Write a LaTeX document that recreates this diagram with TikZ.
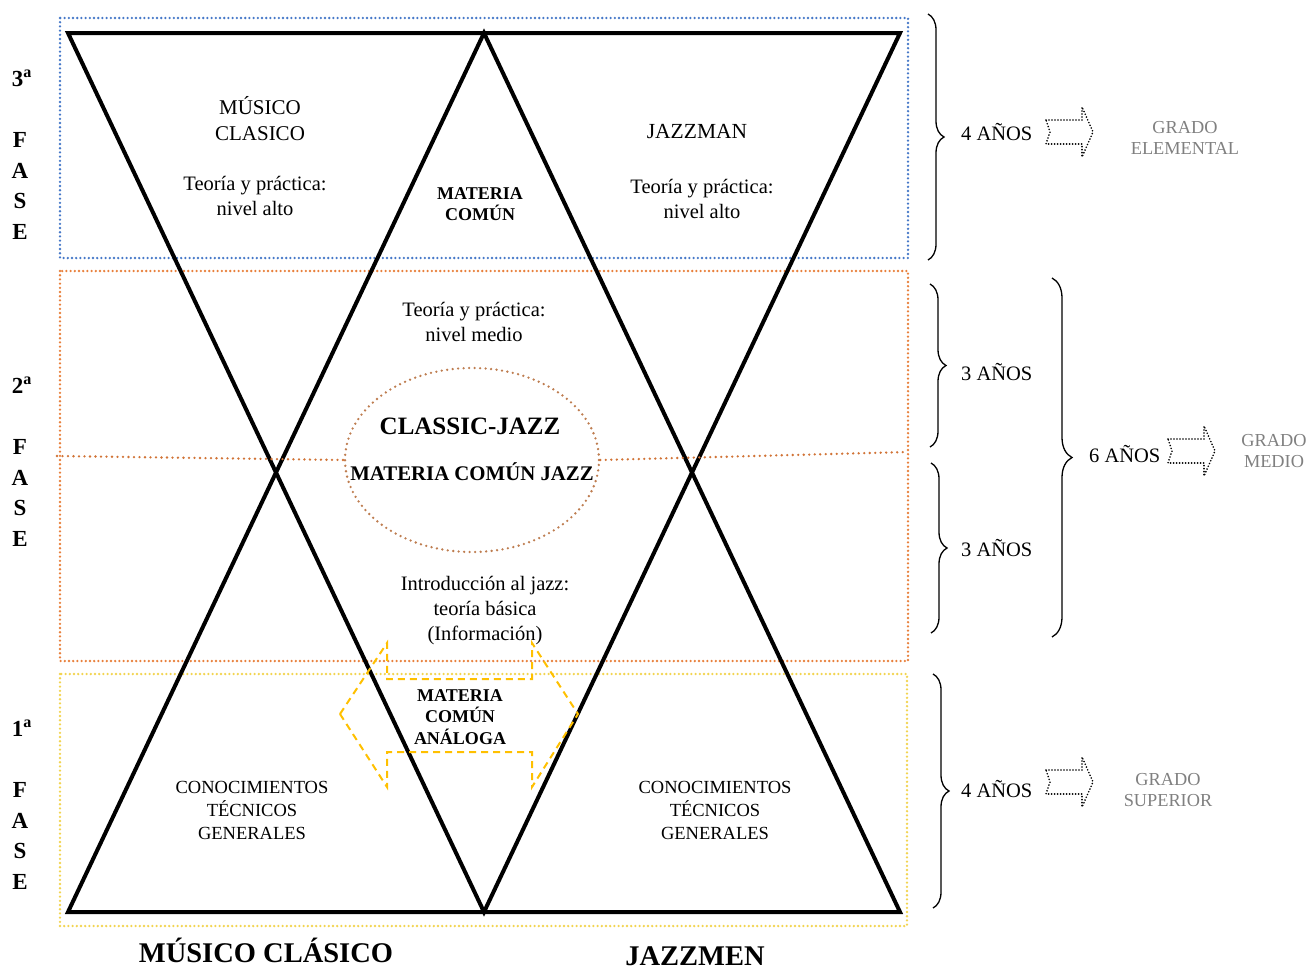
\documentclass[tikz,border=0pt]{standalone}
\usepackage{fontspec}
\setmainfont{Liberation Serif}
\usepackage{tikz}
\usetikzlibrary{shapes.geometric, decorations.pathreplacing, positioning}
\definecolor{faseazul}{RGB}{70,120,200}
\definecolor{fasenaranja}{RGB}{232,128,60}
\definecolor{faseamarilla}{RGB}{242,212,80}
\definecolor{elipsemarron}{RGB}{190,125,80}
\definecolor{flechaamarilla}{RGB}{255,192,0}
\definecolor{gradogris}{RGB}{128,128,128}
\tikzset{
  marco/.style={dash pattern=on 0pt off 4.2pt, line cap=round, line width=2.6pt},
  linea/.style={line width=4pt, line join=miter},
  texto/.style={align=center, font=\fontsize{20.5}{25}\selectfont, inner sep=0pt},
  negrita/.style={align=center, font=\bfseries\fontsize{18}{21.5}\selectfont, inner sep=0pt},
  tecnico/.style={align=center, font=\fontsize{18.5}{23}\selectfont, inner sep=0pt},
  fase/.style={align=center, font=\bfseries\fontsize{23}{30.7}\selectfont, inner sep=0pt},
  titulo/.style={font=\bfseries\fontsize{28.5}{32}\selectfont, inner sep=0pt},
  llave/.style={decorate, decoration={brace, amplitude=16pt}, line width=1.3pt},
  anos/.style={font=\fontsize{20.5}{25}\selectfont, inner sep=0pt, anchor=west},
  grado/.style={align=center, font=\fontsize{18.3}{21.5}\selectfont, text=gradogris, inner sep=0pt},
  hueca/.style={dash pattern=on 0pt off 3pt, line cap=round, line width=1.8pt},
  punteado/.style={dash pattern=on 0pt off 5.5pt, line cap=round, line width=2.6pt}
}
% flecha hueca punteada, desde su punto medio izquierdo
\newcommand\flechahueca[1]{%
  \draw[hueca, shift={(#1)}] (0,-12) -- (36,-12) -- (36,-25) -- (47,0)
    -- (36,25) -- (36,12) -- (0,12) -- (4,0) -- cycle;}

\begin{document}
\begin{tikzpicture}[x=1pt, y=-1pt]
  \useasboundingbox (0,0) rectangle (1309,969);
  % fases
  \draw[marco, faseazul]     (60,18)  rectangle (908,258);
  \draw[marco, fasenaranja]  (60,271) rectangle (908,661);
  \draw[marco, faseamarilla] (60,674) rectangle (907,926);
  % triangulos
  \coordinate (si) at (68,33);  \coordinate (sc) at (484,33);  \coordinate (sd) at (900,33);
  \coordinate (ii) at (68,912); \coordinate (ic) at (484,912); \coordinate (id) at (900,912);
  \draw[linea] (si) -- (sd) -- (ic) -- cycle;
  \draw[linea] (ii) -- (id) -- (sc) -- cycle;
  % elipse central
  \node[draw=elipsemarron, ellipse, punteado, minimum width=254pt, minimum height=184pt,
        inner sep=0pt] (elipse) at (472,460) {};
  \coordinate (mi) at (57,456);
  \coordinate (md) at (908,452);
  \draw[punteado, fasenaranja!90!black] (mi) -- (elipse.west);
  \draw[punteado, fasenaranja!90!black] (elipse.east) -- (md);
  % textos fase 3
  \node[texto, font=\fontsize{21}{26}\selectfont] (clasico) at (260,119) {MÚSICO\\CLASICO};
  \node[texto] (teoriaC) at (255,196) {Teoría y práctica:\\nivel alto};
  \node[negrita] (comun) at (480,204) {MATERIA\\COMÚN};
  \node[texto, font=\fontsize{21.5}{26}\selectfont] (jazzman) at (697,132) {JAZZMAN};
  \node[texto] (teoriaJ) at (702,199) {Teoría y práctica:\\nivel alto};
  % textos fase 2
  \node[texto] (medio) at (474,322) {Teoría y práctica:\\nivel medio};
  \node[titulo, font=\bfseries\fontsize{25}{28}\selectfont] (cj) at (470,426) {CLASSIC-JAZZ};
  \node[negrita, font=\bfseries\fontsize{20.8}{24}\selectfont] (cjazz) at (472,472) {MATERIA COMÚN JAZZ};
  \node[texto] (intro) at (485,611) {Introducción al jazz:\\teoría básica\\(Información)};
  % textos fase 1
  \draw[flechaamarilla, line width=2pt, dash pattern=on 7pt off 5pt]
    (340,714) -- (387,643) -- (387,679) -- (532,679) -- (532,643) -- (578,714)
    -- (532,787) -- (532,752) -- (387,752) -- (387,787) -- cycle;
  \node[negrita] (analoga) at (460,717) {MATERIA\\COMÚN\\ANÁLOGA};
  \node[tecnico] (tecC) at (252,810) {CONOCIMIENTOS\\TÉCNICOS\\GENERALES};
  \node[tecnico] (tecJ) at (715,810) {CONOCIMIENTOS\\TÉCNICOS\\GENERALES};
  % pie
  \node[titulo] (pieC) at (266,950) {MÚSICO CLÁSICO};
  \node[titulo] (pieJ) at (695,956) {JAZZMEN};
  % etiquetas de fase
  \node[fase] (n3) at (22,78)  {3\textsuperscript{a}};
  \node[fase] (f3) at (20,186) {F\\A\\S\\E};
  \node[fase] (n2) at (22,385) {2\textsuperscript{a}};
  \node[fase] (f2) at (20,493) {F\\A\\S\\E};
  \node[fase] (n1) at (22,728) {1\textsuperscript{a}};
  \node[fase] (f1) at (20,836) {F\\A\\S\\E};
  % llaves y grados
  \draw[llave] (928,14) -- (928,260);
  \draw[llave] (930,284) -- (930,447);
  \draw[llave] (931,463) -- (931,633);
  \draw[llave, decoration={amplitude=20pt}] (1052,278) -- (1052,637);
  \draw[llave] (933,674) -- (933,908);
  \node[anos] (a4s) at (961,132) {4 AÑOS};
  \node[anos] (a3a) at (961,372) {3 AÑOS};
  \node[anos] (a3b) at (961,548) {3 AÑOS};
  \node[anos] (a6)  at (1089,454) {6 AÑOS};
  \node[anos] (a4i) at (961,789) {4 AÑOS};
  \flechahueca{1046,132}
  \flechahueca{1168,451}
  \flechahueca{1046,782}
  \node[grado] (gElem) at (1185,138) {GRADO\\ELEMENTAL};
  \node[grado] (gMed)  at (1274,451) {GRADO\\MEDIO};
  \node[grado] (gSup)  at (1168,790) {GRADO\\SUPERIOR};
\end{tikzpicture}
\end{document}
